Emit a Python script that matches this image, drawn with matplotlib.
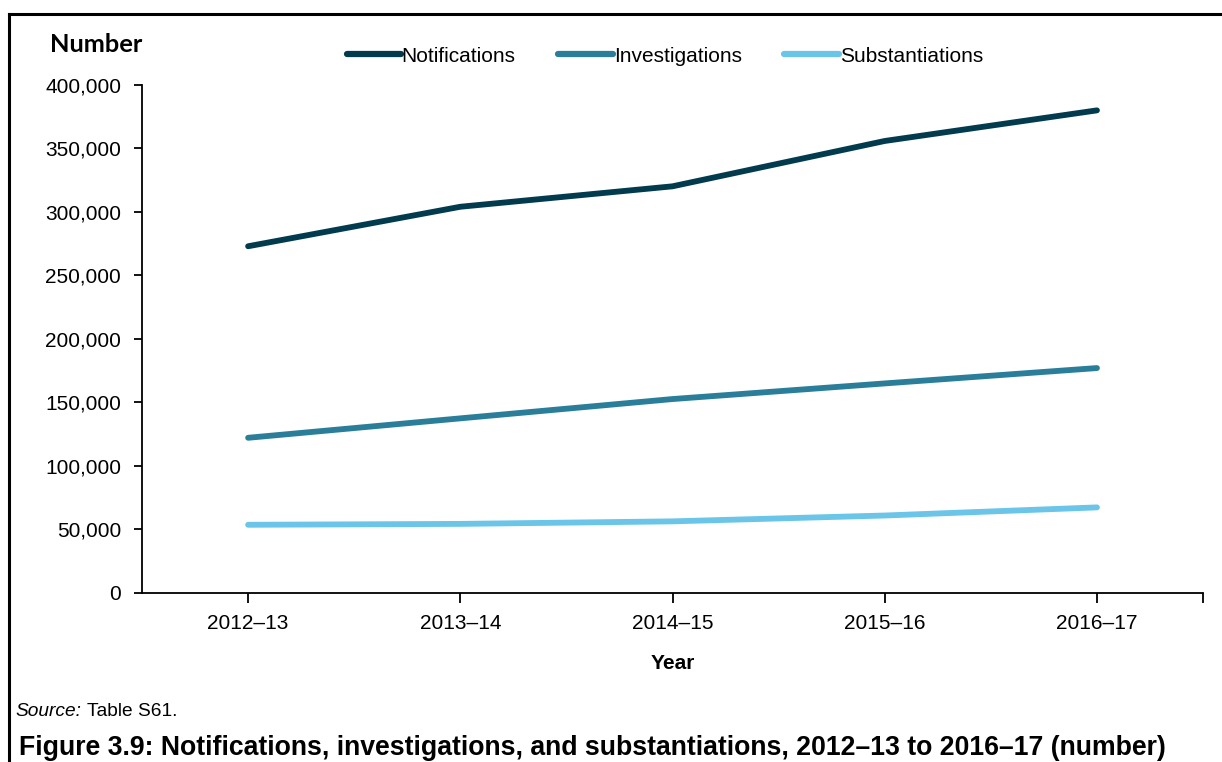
import matplotlib.pyplot as plt
from matplotlib.lines import Line2D
from matplotlib.ticker import FuncFormatter

# Data
years = ["2012–13", "2013–14", "2014–15", "2015–16", "2016–17"]
notifications = [273000, 304100, 320200, 355900, 380000]
investigations = [122200, 137500, 152700, 165000, 177100]
substantiations = [53700, 54400, 56400, 61000, 67400]

series = [
    ("Notifications", notifications, "#023b4d"),
    ("Investigations", investigations, "#2a7e99"),
    ("Substantiations", substantiations, "#6bc5e8"),
]

plt.rcParams["font.family"] = ["Liberation Sans", "DejaVu Sans"]

fig = plt.figure(figsize=(12.22, 7.62), dpi=100)
ax = fig.add_axes([0.1162, 0.2218, 0.8683, 0.6667])

x = list(range(len(years)))
for name, values, color in series:
    ax.plot(x, values, color=color, linewidth=4.2, solid_capstyle="round", label=name)

ax.set_xlim(-0.5, 4.5)
ax.set_ylim(0, 400000)
ax.set_yticks(range(0, 400001, 50000))
ax.yaxis.set_major_formatter(FuncFormatter(lambda v, p: f"{int(v):,}"))
ax.set_xticks(x)
ax.set_xticklabels(years)
ax.set_xticks([4.5], minor=True)

for side in ["top", "right"]:
    ax.spines[side].set_visible(False)
for side in ["left", "bottom"]:
    ax.spines[side].set_linewidth(1.3)

ax.tick_params(axis="y", direction="out", length=6, width=1.3, pad=9, labelsize=15)
ax.tick_params(axis="x", which="both", direction="out", length=7, width=1.3, pad=8, labelsize=15)

ax.set_xlabel("Year", fontsize=15, fontweight="bold", labelpad=15)
fig.text(0.041, 0.941, "Number", fontsize=18.3, fontweight="bold", family="Lato",
         ha="left", va="center")

leg = ax.legend(loc="center", bbox_to_anchor=(0.4926, 1.057), ncol=3, frameon=False,
                fontsize=15, handlelength=2.6, handletextpad=0.05, columnspacing=2.05)
for h in leg.get_lines():
    h.set_linewidth(4.5)

fig.text(0.0123, 0.066, "Source:", fontsize=13.8, style="italic", ha="left", va="center")
fig.text(0.0712, 0.066, "Table S61.", fontsize=13.8, ha="left", va="center")
fig.text(0.0155, 0.0095, "Figure 3.9: Notifications, investigations, and substantiations, 2012–13 to 2016–17 (number)",
         fontsize=19.2, fontweight="bold", ha="left", va="baseline")

# frame around the chart (top and left edges)
fig.add_artist(Line2D([0.0074, 1.0], [0.9816, 0.9816], color="black", linewidth=2.2,
                      transform=fig.transFigure))
fig.add_artist(Line2D([0.0074, 0.0074], [0.0, 0.9816], color="black", linewidth=2.2,
                      transform=fig.transFigure))

fig.savefig("out.png", dpi=100)
